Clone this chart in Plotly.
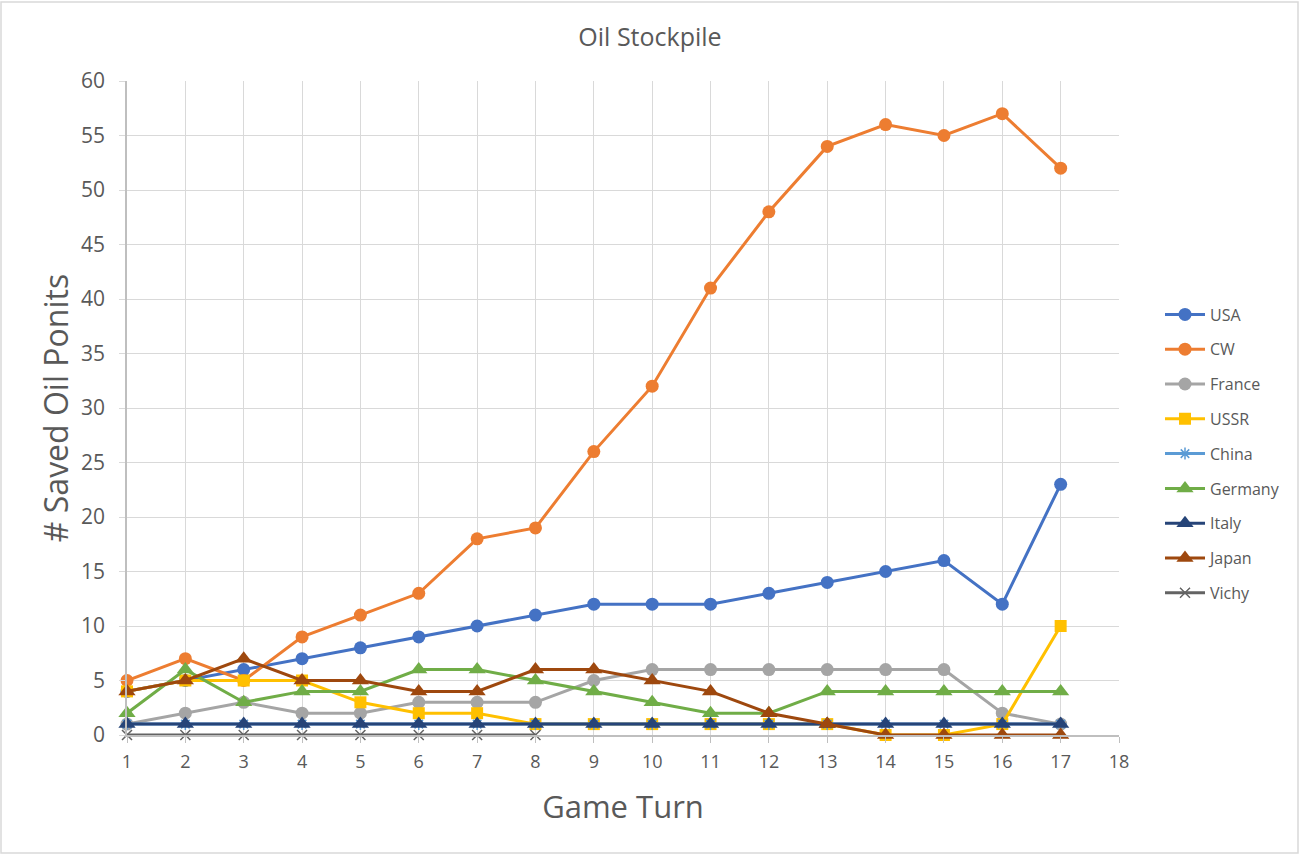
import plotly.graph_objects as go

turns = list(range(1, 18))

usa = [4, 5, 6, 7, 8, 9, 10, 11, 12, 12, 12, 13, 14, 15, 16, 12, 23]
cw = [5, 7, 5, 9, 11, 13, 18, 19, 26, 32, 41, 48, 54, 56, 55, 57, 52]
france = [1, 2, 3, 2, 2, 3, 3, 3, 5, 6, 6, 6, 6, 6, 6, 2, 1]
ussr = [4, 5, 5, 5, 3, 2, 2, 1, 1, 1, 1, 1, 1, 0, 0, 1, 10]
china = [1] * 17
germany = [2, 6, 3, 4, 4, 6, 6, 5, 4, 3, 2, 2, 4, 4, 4, 4, 4]
italy = [1] * 17
japan = [4, 5, 7, 5, 5, 4, 4, 6, 6, 5, 4, 2, 1, 0, 0, 0, 0]
vichy = [0, 0, 0, 0, 0, 0, 0, 0] + [None] * 9

series = [
    ("USA", usa, "#4472C4", "circle"),
    ("CW", cw, "#ED7D31", "circle"),
    ("France", france, "#A5A5A5", "circle"),
    ("USSR", ussr, "#FFC000", "square"),
    ("China", china, "#5B9BD5", "asterisk"),
    ("Germany", germany, "#70AD47", "triangle-up"),
    ("Italy", italy, "#264478", "triangle-up"),
    ("Japan", japan, "#9E480E", "triangle-up"),
    ("Vichy", vichy, "#636363", "x-thin"),
]
sizes = {"circle": 13, "square": 12, "asterisk": 10, "triangle-up": 15, "x-thin": 10}

fig = go.Figure()
for name, vals, color, sym in series:
    thin = sym in ("asterisk", "x-thin")
    fig.add_trace(go.Scatter(
        x=turns, y=vals, name=name, mode="lines+markers",
        line=dict(color=color, width=3),
        marker=dict(symbol=sym, size=sizes[sym], color=color,
                    line=dict(color=color, width=1.5 if thin else 0)),
        legendgroup=name, cliponaxis=False,
    ))

# plot area in pixels: left 127, right 1119, top 81, bottom 735
pl, pr, pt, pb = 127, 1119, 81, 735
pw, ph = pr - pl, pb - pt

fig.update_layout(
    width=1300, height=855,
    margin=dict(l=pl, r=1300 - pr, t=pt, b=855 - pb),
    paper_bgcolor="white", plot_bgcolor="white",
    font=dict(family="Open Sans, Noto Sans, sans-serif", color="#595959"),
    title=dict(text="Oil Stockpile", x=0.5, xanchor="center",
               y=1 - 37 / 855, yanchor="middle",
               font=dict(size=25, color="#595959")),
    xaxis=dict(range=[1, 18], dtick=1, tick0=1, showgrid=True,
               gridcolor="#D9D9D9", gridwidth=1.3, zeroline=False,
               showline=True, linecolor="#BFBFBF", linewidth=1.5,
               ticks="outside", ticklen=6, tickcolor="#BFBFBF",
               ticklabelstandoff=4,
               tickfont=dict(size=18, color="#595959"),
               title=dict(text="Game Turn", standoff=24,
                          font=dict(size=31, color="#595959"))),
    yaxis=dict(range=[0, 60], dtick=5, showgrid=True,
               gridcolor="#D9D9D9", gridwidth=1.3, zeroline=False,
               showline=True, linecolor="#BFBFBF", linewidth=1.5,
               ticks="outside", ticklen=6, tickcolor="#D9D9D9",
               ticklabelstandoff=10,
               tickfont=dict(size=21, color="#595959"),
               title=dict(text="# Saved Oil Ponits", standoff=3,
                          font=dict(size=32, color="#595959"))),
    legend=dict(x=(1160 - pl) / pw, xanchor="left",
                y=(pb - 454) / ph, yanchor="middle",
                font=dict(size=16, color="#595959"),
                tracegroupgap=11, itemwidth=40),
    shapes=[dict(type="rect", xref="paper", yref="paper",
                 x0=(1 - pl) / pw, x1=(1298 - pl) / pw,
                 y0=(pb - 853) / ph, y1=(pb - 2) / ph,
                 line=dict(color="#D9D9D9", width=1.5), layer="below")],
)

fig.write_html("out.html", config={"displayModeBar": False},
               post_script="document.body.style.margin = '0';")
